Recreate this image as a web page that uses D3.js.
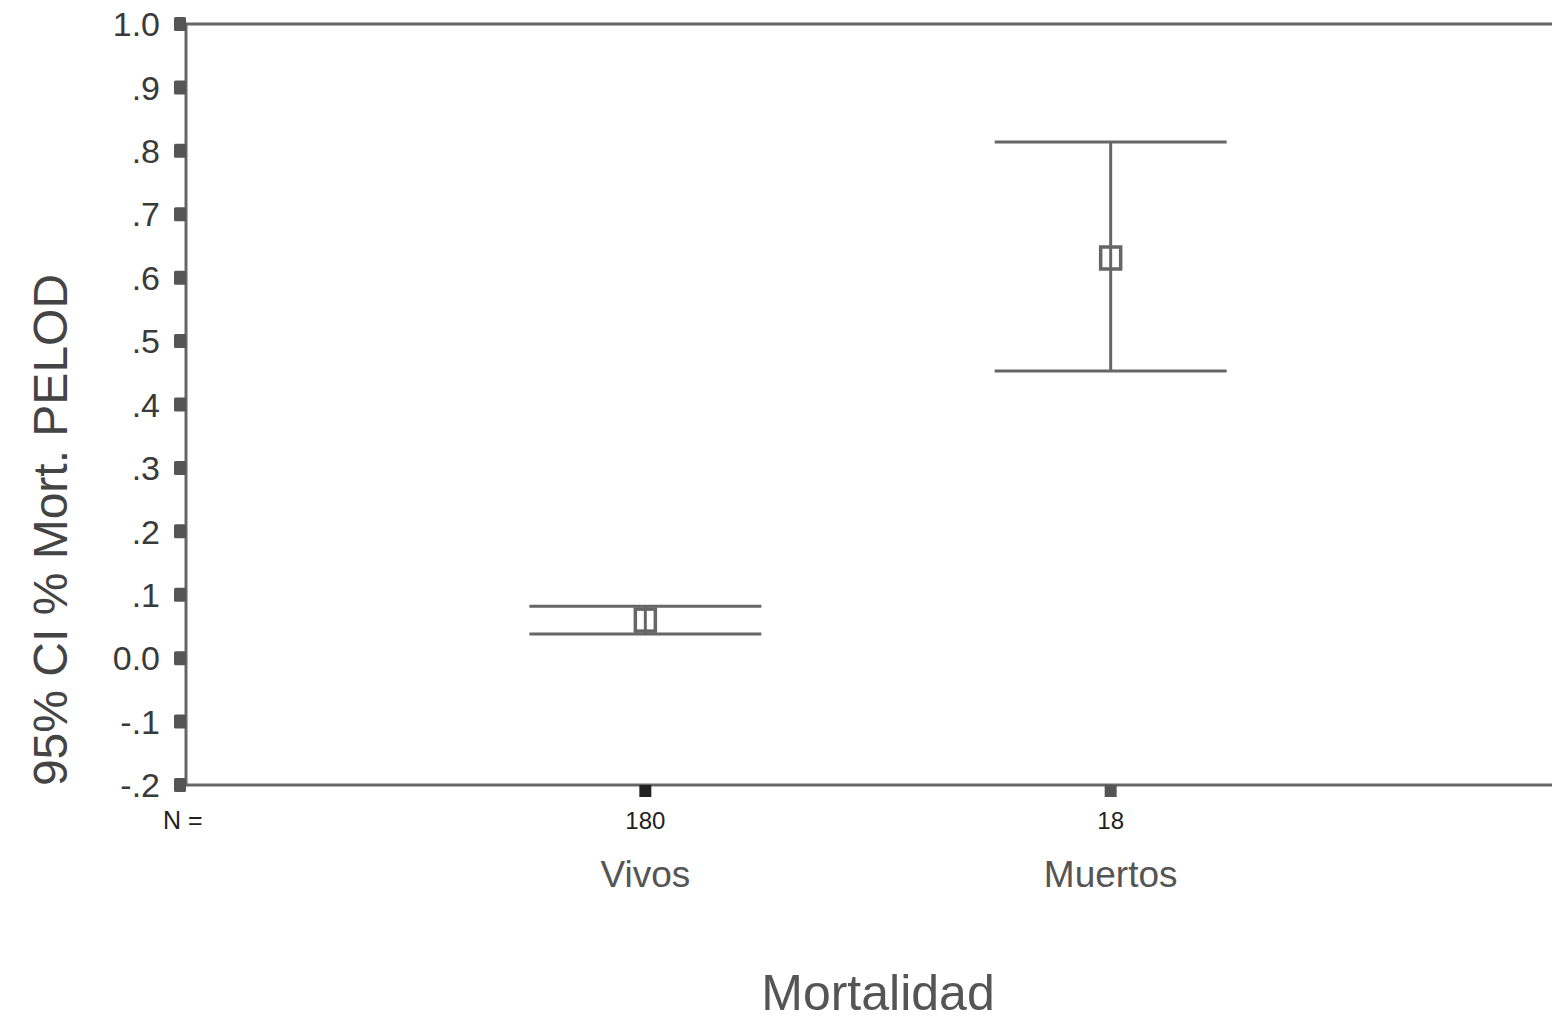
<!DOCTYPE html>
<html>
<head>
<meta charset="utf-8">
<script src="https://cdn.jsdelivr.net/npm/d3@7"></script>
<style>
  body { margin: 0; background: #fff; }
  text { font-family: Arial, "Liberation Sans", sans-serif; }
</style>
</head>
<body>
<script>
// chart values
var groups = ["Vivos", "Muertos"];
var counts = [180, 18];
var means = [0.060, 0.631];
var lower = [0.038, 0.453];
var upper = [0.082, 0.814];
var yTicks = [1.0, 0.9, 0.8, 0.7, 0.6, 0.5, 0.4, 0.3, 0.2, 0.1, 0.0, -0.1, -0.2];
var yTickLabels = ["1.0", ".9", ".8", ".7", ".6", ".5", ".4", ".3", ".2", ".1", "0.0", "-.1", "-.2"];

var width = 1552, height = 1024;
var plotLeft = 186, plotTop = 24, plotBottom = 785;
var lineColor = "#666";

var svg = d3.select("body").append("svg")
  .attr("width", width)
  .attr("height", height);

var y = d3.scaleLinear().domain([-0.2, 1.0]).range([plotBottom, plotTop]);
// category axis runs past the right edge of the picture
var x = d3.scalePoint().domain(groups).range([plotLeft - 6, 1576]).padding(1);

// frame lines
svg.append("line").attr("x1", plotLeft).attr("x2", width).attr("y1", plotTop).attr("y2", plotTop)
  .attr("stroke", lineColor).attr("stroke-width", 3);
svg.append("line").attr("x1", plotLeft).attr("x2", width).attr("y1", plotBottom).attr("y2", plotBottom)
  .attr("stroke", lineColor).attr("stroke-width", 3);
svg.append("line").attr("x1", plotLeft).attr("x2", plotLeft).attr("y1", plotTop - 1).attr("y2", plotBottom + 1)
  .attr("stroke", lineColor).attr("stroke-width", 3);

// y ticks (square blocks) and labels
var yg = svg.append("g");
yg.selectAll("rect.tick")
  .data(yTicks)
  .enter().append("rect")
  .attr("class", "tick")
  .attr("x", plotLeft - 12)
  .attr("y", d => y(d) - 7)
  .attr("width", 12)
  .attr("height", 14)
  .attr("rx", 1.5)
  .attr("fill", "#555");
yg.selectAll("text")
  .data(yTicks)
  .enter().append("text")
  .attr("x", 160)
  .attr("y", d => y(d))
  .attr("dy", "0.36em")
  .attr("text-anchor", "end")
  .attr("fill", "#3a3a3a")
  .style("font-size", "34px")
  .text((d, i) => yTickLabels[i]);

// x ticks
svg.selectAll("rect.xtick")
  .data(groups)
  .enter().append("rect")
  .attr("class", "xtick")
  .attr("x", d => x(d) - 6)
  .attr("y", plotBottom)
  .attr("width", 12)
  .attr("height", 12)
  .attr("fill", (d, i) => i === 0 ? "#222" : "#555");

// N = row
svg.append("text")
  .attr("x", 163).attr("y", 829)
  .attr("fill", "#222")
  .style("font-size", "25px")
  .text("N =");
svg.selectAll("text.count")
  .data(groups)
  .enter().append("text")
  .attr("class", "count")
  .attr("x", d => x(d))
  .attr("y", 829)
  .attr("text-anchor", "middle")
  .attr("fill", "#222")
  .style("font-size", "24px")
  .text((d, i) => counts[i]);

// category labels
svg.selectAll("text.cat")
  .data(groups)
  .enter().append("text")
  .attr("class", "cat")
  .attr("x", d => x(d))
  .attr("y", 887)
  .attr("text-anchor", "middle")
  .attr("fill", "#555")
  .style("font-size", "37px")
  .text(d => d);

// axis titles
svg.append("text")
  .attr("x", 878).attr("y", 1010)
  .attr("text-anchor", "middle")
  .attr("fill", "#555")
  .style("font-size", "50px")
  .text("Mortalidad");

svg.append("text")
  .attr("transform", "translate(67,530) rotate(-90)")
  .attr("text-anchor", "middle")
  .attr("fill", "#444")
  .style("font-size", "48px")
  .text("95% CI % Mort. PELOD");

// error bars
var capHalf = 116;
var bars = svg.selectAll("g.bar")
  .data(groups)
  .enter().append("g")
  .attr("class", "bar");

bars.append("line")
  .attr("x1", d => x(d)).attr("x2", d => x(d))
  .attr("y1", (d, i) => y(upper[i])).attr("y2", (d, i) => y(lower[i]))
  .attr("stroke", lineColor).attr("stroke-width", 3);
bars.append("line")
  .attr("x1", d => x(d) - capHalf).attr("x2", d => x(d) + capHalf)
  .attr("y1", (d, i) => y(upper[i])).attr("y2", (d, i) => y(upper[i]))
  .attr("stroke", lineColor).attr("stroke-width", 3);
bars.append("line")
  .attr("x1", d => x(d) - capHalf).attr("x2", d => x(d) + capHalf)
  .attr("y1", (d, i) => y(lower[i])).attr("y2", (d, i) => y(lower[i]))
  .attr("stroke", lineColor).attr("stroke-width", 3);
bars.append("rect")
  .attr("x", d => x(d) - 10)
  .attr("y", (d, i) => y(means[i]) - 11)
  .attr("width", 20)
  .attr("height", 22)
  .attr("fill", "none")
  .attr("stroke", lineColor)
  .attr("stroke-width", 3.5);
</script>
</body>
</html>
